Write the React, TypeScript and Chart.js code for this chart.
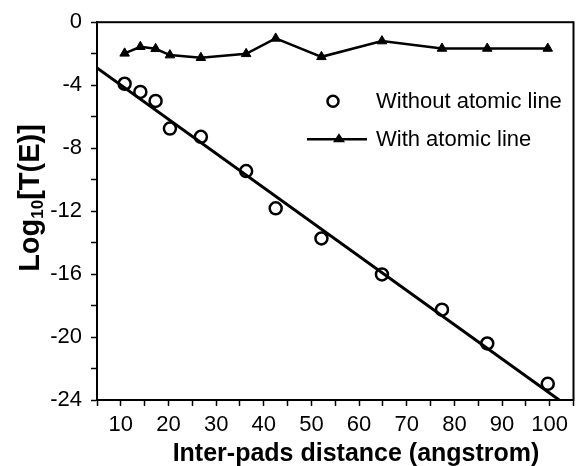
import React, { useEffect, useRef } from "react";
import { Chart, registerables } from "chart.js";

Chart.register(...registerables);

const distances = [10.8, 14.1, 17.3, 20.3, 26.8, 36.3, 42.5, 52.1, 64.8, 77.4, 86.9, 99.6];
const withoutAtomicLine = [-3.91, -4.43, -5.0, -6.76, -7.28, -9.46, -11.82, -13.74, -16.02, -18.26, -20.41, -22.97];
const withAtomicLine = [-1.98, -1.56, -1.69, -2.09, -2.26, -2.01, -1.03, -2.2, -1.2, -1.67, -1.67, -1.67];
const fitX = [5, 102];
const fitY = [-2.9, -24];
const legendLabels = ["Without atomic line", "With atomic line"];
const xTitle = "Inter-pads distance (angstrom)";
const yTitleMain = "Log";
const yTitleSub = "10";
const yTitleRest = "[T(E)]";

const FONT = "'Liberation Sans', Arial, sans-serif";

const decorPlugin = {
  id: "decor",
  afterDraw(chart: any) {
    const { ctx, chartArea } = chart;
    const { left, top, right, bottom } = chartArea;
    ctx.save();
    // frame
    ctx.strokeStyle = "#000";
    ctx.lineWidth = 2;
    ctx.strokeRect(left, top, right - left, bottom - top);

    // legend
    const lx = left + 236;
    const ty = top + 79;
    ctx.lineWidth = 2.5;
    ctx.beginPath();
    ctx.arc(lx, ty, 5.5, 0, Math.PI * 2);
    ctx.stroke();
    ctx.fillStyle = "#000";
    ctx.font = `22px ${FONT}`;
    ctx.textBaseline = "middle";
    ctx.textAlign = "left";
    ctx.fillText(legendLabels[0], left + 279, ty + 1);

    const ty2 = top + 117;
    ctx.lineWidth = 2.5;
    ctx.beginPath();
    ctx.moveTo(left + 210, ty2);
    ctx.lineTo(left + 270, ty2);
    ctx.stroke();
    ctx.beginPath();
    const tx = left + 242;
    ctx.moveTo(tx, ty2 - 6);
    ctx.lineTo(tx + 6, ty2 + 3);
    ctx.lineTo(tx - 6, ty2 + 3);
    ctx.closePath();
    ctx.fill();
    ctx.fillText(legendLabels[1], left + 279, ty2 + 1);

    // x title
    ctx.font = `bold 25px ${FONT}`;
    ctx.textAlign = "center";
    ctx.fillText(xTitle, 356, 454);

    // y title with subscript
    ctx.translate(29, 198);
    ctx.rotate(-Math.PI / 2);
    const mainFont = `bold 29px ${FONT}`;
    const subFont = `bold 17px ${FONT}`;
    ctx.font = mainFont;
    const w1 = ctx.measureText(yTitleMain).width;
    const w3 = ctx.measureText(yTitleRest).width;
    ctx.font = subFont;
    const w2 = ctx.measureText(yTitleSub).width;
    const total = w1 + w2 + w3;
    let x = -total / 2;
    ctx.textAlign = "left";
    ctx.textBaseline = "alphabetic";
    ctx.font = mainFont;
    ctx.fillText(yTitleMain, x, 10);
    x += w1;
    ctx.font = subFont;
    ctx.fillText(yTitleSub, x, 14);
    x += w2;
    ctx.font = mainFont;
    ctx.fillText(yTitleRest, x, 10);
    ctx.restore();
  },
};

export default function App() {
  const ref = useRef<HTMLCanvasElement | null>(null);
  useEffect(() => {
    if (!ref.current) return;
    const chart = new Chart(ref.current, {
      type: "scatter",
      data: {
        datasets: [
          {
            label: "fit",
            data: fitX.map((x, i) => ({ x, y: fitY[i] })),
            showLine: true,
            borderColor: "#000",
            borderWidth: 3,
            pointRadius: 0,
            order: 3,
          },
          {
            label: legendLabels[0],
            data: distances.map((x, i) => ({ x, y: withoutAtomicLine[i] })),
            showLine: false,
            pointStyle: "circle",
            pointRadius: 6,
            borderColor: "#000",
            backgroundColor: "rgba(0,0,0,0)",
            pointBorderWidth: 2.5,
            order: 1,
          },
          {
            label: legendLabels[1],
            data: distances.map((x, i) => ({ x, y: withAtomicLine[i] })),
            showLine: true,
            borderColor: "#000",
            borderWidth: 2.5,
            pointStyle: "triangle",
            pointRadius: 5.5,
            pointBackgroundColor: "#000",
            pointBorderColor: "#000",
            pointBorderWidth: 1,
            order: 2,
          },
        ],
      },
      options: {
        responsive: false,
        animation: false,
        layout: { padding: { top: 21, right: 3, left: 0, bottom: 0 } },
        plugins: { legend: { display: false }, tooltip: { enabled: false } },
        scales: {
          x: {
            type: "linear",
            min: 5,
            max: 105,
            afterFit: (s: any) => {
              s.height = 66;
            },
            border: { display: true, color: "#000", width: 2 },
            grid: { drawOnChartArea: false, drawTicks: true, tickLength: 6, tickColor: "#000", tickWidth: 1.5 },
            ticks: {
              stepSize: 5,
              color: "#000",
              font: { family: FONT, size: 22 },
              padding: 6,
              maxRotation: 0,
              autoSkip: false,
              callback: (v: any) => (Number(v) % 10 === 0 ? String(v) : ""),
            },
          },
          y: {
            type: "linear",
            min: -24,
            max: 0,
            afterFit: (s: any) => {
              s.width = 97;
            },
            border: { display: true, color: "#000", width: 2 },
            grid: { drawOnChartArea: false, drawTicks: true, tickLength: 6, tickColor: "#000", tickWidth: 1.5 },
            ticks: {
              stepSize: 2,
              color: "#000",
              font: { family: FONT, size: 22 },
              padding: 9,
              autoSkip: false,
              callback: (v: any) => (Number(v) % 4 === 0 ? String(v) : ""),
            },
          },
        },
      },
      plugins: [decorPlugin],
    });
    return () => chart.destroy();
  }, []);
  return (
    <div style={{ position: "fixed", left: 0, top: 0, width: 582, height: 466, background: "#fff" }}>
      <canvas ref={ref} width={582} height={466} />
    </div>
  );
}
